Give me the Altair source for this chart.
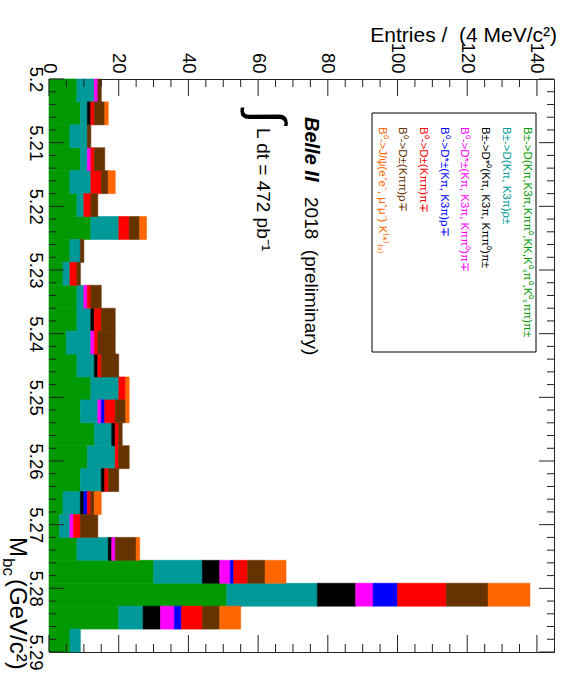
import altair as alt
import numpy as np
import pandas as pd

# Mbc histogram range and binning
MBC_MIN, MBC_MAX, N_BINS = 5.20, 5.29, 25

# Decay-mode categories, in stacking order (left to right)
mode_keys = ["Dpi", "Drho", "Dst0pi", "Dstpi", "Dstrho", "Dpi0", "Drho0", "JpsiK"]
mode_labels = [
    "B±->D(Kπ,K3π,Kππ⁰,KK,K⁰ₛπ⁰,K⁰ₛππ)π±",
    "B±->D(Kπ, K3π)ρ±",
    "B±->D*⁰(Kπ, K3π, Kππ⁰)π±",
    "B⁰->D*±(Kπ, K3π, Kππ⁰)π∓",
    "B⁰->D*±(Kπ, K3π)ρ∓",
    "B⁰->D±(Kππ)π∓",
    "B⁰->D±(Kππ)ρ∓",
    "B⁰->J/ψ(e⁺e⁻, μ⁺μ⁻) K⁽*⁾₍ₛ₎",
]
mode_colors = ["#009900", "#009999", "#000000", "#ff00ff",
               "#0000ff", "#ff0000", "#663300", "#ff6600"]

# Entries per bin for each mode
n_Dpi    = [8, 9, 6, 9, 6, 8, 12, 6, 4, 8, 8, 5, 8, 12, 9, 13, 11, 9, 4, 3, 8, 30, 51, 20, 6]
n_Drho   = [5, 2, 5, 2, 6, 2, 8, 3, 2, 2, 4, 7, 5, 8, 5, 5, 8, 6, 5, 3, 9, 14, 26, 7, 3]
n_Dst0pi = [0, 1, 0, 0, 0, 0, 0, 0, 0, 0, 1, 0, 1, 0, 0, 1, 0, 1, 1, 0, 1, 5, 11, 5, 0]
n_Dstpi  = [1, 0, 0, 1, 0, 0, 0, 0, 0, 1, 0, 1, 0, 0, 1, 0, 0, 0, 0, 1, 1, 3, 5, 4, 0]
n_Dstrho = [0, 0, 0, 0, 0, 0, 0, 0, 0, 0, 0, 0, 0, 0, 1, 0, 0, 0, 1, 0, 0, 1, 7, 2, 0]
n_Dpi0   = [0, 1, 0, 1, 3, 2, 3, 0, 2, 1, 2, 1, 1, 2, 3, 1, 1, 1, 1, 2, 0, 4, 14, 6, 0]
n_Drho0  = [1, 3, 1, 3, 2, 2, 3, 1, 1, 3, 4, 5, 5, 0, 3, 1, 3, 3, 1, 5, 6, 5, 12, 5, 0]
n_JpsiK  = [0, 1, 0, 0, 2, 0, 2, 0, 0, 0, 0, 0, 0, 1, 1, 0, 0, 0, 2, 0, 1, 6, 12, 6, 0]
series = [n_Dpi, n_Drho, n_Dst0pi, n_Dstpi, n_Dstrho, n_Dpi0, n_Drho0, n_JpsiK]

# Axis tick values
entries_major = [0, 20, 40, 60, 80, 100, 120, 140]
mbc_major = [5.20, 5.21, 5.22, 5.23, 5.24, 5.25, 5.26, 5.27, 5.28, 5.29]

edges = np.linspace(MBC_MIN, MBC_MAX, N_BINS + 1)
rows = []
for k, key in enumerate(mode_keys):
    for i, c in enumerate(series[k]):
        rows.append({"mode": key, "k": k, "lo": edges[i], "hi": edges[i + 1], "n": c})
hist = pd.DataFrame(rows)

totals = np.sum(np.array(series), axis=0)
X_MAX = 1.05 * float(totals.max())

W, H = 505, 573
FONT = "Liberation Sans, Arial, Helvetica, sans-serif"
NARROW = "Liberation Sans Narrow, Arial Narrow, Liberation Sans, sans-serif"
NBSP = "\u00a0"

xs = alt.Scale(domain=[0, X_MAX], nice=False, zero=False)
ys = alt.Scale(domain=[MBC_MIN, MBC_MAX], nice=False, zero=False, reverse=True)

# Tick labels only; the ticks themselves are drawn inward as rules below
x_axis = alt.Axis(
    orient="top", values=entries_major, title=None, ticks=False, tickSize=0,
    domain=False, grid=False, labelAngle=90, labelAlign="right",
    labelBaseline="middle", labelPadding=6, labelFont=NARROW, labelFontSize=18.5,
    labelColor="black", labelOverlap=False, labelFlush=False, labelBound=False)
y_axis = alt.Axis(
    orient="left", values=mbc_major, format=".2~f", title=None, ticks=False,
    tickSize=0, domain=False, grid=False, labelAngle=90, labelAlign="center",
    labelBaseline="top", labelPadding=5, labelFont=NARROW, labelFontSize=18.5,
    labelColor="black", labelOverlap=False, labelFlush=False, labelBound=False)

color_scale = alt.Scale(domain=mode_keys, range=mode_colors)

bars = (
    alt.Chart(hist)
    .transform_stack(stack="n", groupby=["lo"], as_=["x0", "x1"],
                     sort=[alt.SortField("k", order="ascending")])
    .transform_filter("datum.n > 0")
    .mark_rect(strokeWidth=0.6)
    .encode(
        x=alt.X("x0:Q", scale=xs, axis=x_axis),
        x2="x1:Q",
        y=alt.Y("lo:Q", scale=ys, axis=y_axis),
        y2="hi:Q",
        color=alt.Color("mode:N", scale=color_scale, legend=None),
        stroke=alt.Stroke("mode:N", scale=color_scale, legend=None),
    )
)


def ticks(values, channel, side, length):
    """Inward-pointing frame ticks placed through the shared scales."""
    base = alt.Chart(pd.DataFrame({"v": values})).mark_rule(color="#222", strokeWidth=1)
    if channel == "x":
        enc = {"x": alt.X("v:Q", scale=xs, axis=x_axis)}
        if side == "top":
            enc.update(y=alt.value(0), y2=alt.value(length))
        else:
            enc.update(y=alt.value(H - length), y2=alt.value(H))
    else:
        enc = {"y": alt.Y("v:Q", scale=ys, axis=y_axis)}
        if side == "left":
            enc.update(x=alt.value(0), x2=alt.value(length))
        else:
            enc.update(x=alt.value(W - length), x2=alt.value(W))
    return base.encode(**enc)


entries_minor = [v for v in np.arange(5, X_MAX, 5) if v % 20 != 0]
mbc_minor = [round(MBC_MIN + 0.002 * i, 3) for i in range(1, 45) if i % 5 != 0]

tick_layers = [
    ticks(entries_major, "x", "top", 17), ticks(entries_minor, "x", "top", 8),
    ticks(entries_major, "x", "bottom", 17), ticks(entries_minor, "x", "bottom", 8),
    ticks(mbc_major, "y", "left", 15), ticks(mbc_minor, "y", "left", 7),
    ticks(mbc_major, "y", "right", 15), ticks(mbc_minor, "y", "right", 7),
]


def label(text, x, y, size, color="black", angle=90, align="left",
          baseline="alphabetic", font=FONT, weight="normal", style="normal"):
    return (
        alt.Chart(pd.DataFrame({"t": [text]}))
        .mark_text(align=align, baseline=baseline, angle=angle, fontSize=size,
                   font=font, fontWeight=weight, fontStyle=style, color=color)
        .encode(x=alt.value(x), y=alt.value(y), text="t:N")
    )


# Legend frame
legend_box = (
    alt.Chart(pd.DataFrame({"b": [0]}))
    .mark_rect(fill="white", stroke="black", strokeWidth=1)
    .encode(x=alt.value(323), x2=alt.value(487), y=alt.value(34), y2=alt.value(273))
)

legend_text = [
    label(txt, 477.5 - 20.7 * i, 48, 11.5, color=col, baseline="middle")
    for i, (txt, col) in enumerate(zip(mode_labels, mode_colors))
]

annotations = [
    label("Entries /" + NBSP + " (4 MeV/c²)", W + 3, -37, 21, angle=0, align="right"),
    label("M", -39, 458, 24),
    label("bc", -46, 479, 17),
    label("(GeV/c²)", -39, 500, 24),
    label("Belle II", 256, 38, 20, weight="bold", style="italic"),
    label("2018" + NBSP + " (preliminary)", 256, 118, 19),
    label("∫", 217, 31, 50, baseline="middle"),
    label("L dt = 472 pb⁻¹", 208, 49, 19),
]

chart = (
    alt.layer(bars, *tick_layers, legend_box, *legend_text, *annotations)
    .properties(
        width=W, height=H,
        padding={"left": 49, "top": 79, "right": 7, "bottom": 41},
        autosize=alt.AutoSizeParams(type="none"),
        background="white",
    )
    .configure_view(stroke="#222", strokeWidth=1)
)

chart.save("out.html", embed_options={"renderer": "svg", "actions": False})
